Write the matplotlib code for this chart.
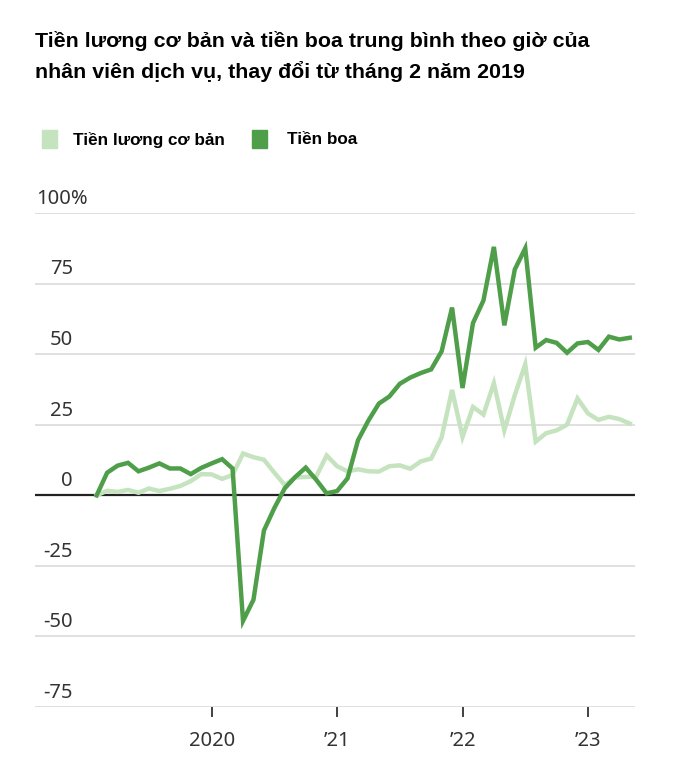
import matplotlib.pyplot as plt
import matplotlib.transforms as mtransforms
from matplotlib.patches import Rectangle

# Dữ liệu theo tháng, từ tháng 2/2019 đến tháng 5/2023 (% thay đổi so với 2/2019)
thang = list(range(52))
luong_co_ban = [0, 1.6, 1.2, 1.9, 0.9, 2.4, 1.5, 2.3, 3.3, 5, 7.5,
                7.4, 5.8, 7.2, 14.8, 13.5, 12.6, 8, 3.6, 6.3, 6.5, 6.6, 14.1,
                10.3, 8.5, 9.2, 8.5, 8.4, 10.3, 10.6, 9.4, 12, 13, 20.5, 37.3,
                20.7, 31.3, 28.6, 39.7, 23, 35.5, 46.4, 19, 22, 23, 25, 34.3,
                29, 26.7, 27.8, 27, 25.4]
tien_boa = [0, 8, 10.5, 11.5, 8.5, 9.8, 11.3, 9.5, 9.5, 7.5, 9.7,
            11.3, 12.8, 9.5, -44.5, -37, -12.5, -4.5, 2.5, 6.5, 9.8, 5.5, 0.7,
            1.5, 6, 19.5, 26.5, 32.5, 35, 39.5, 41.7, 43.3, 44.6, 51, 66.5,
            38, 61, 69, 88, 60.2, 80, 87.5, 52.3, 55, 54, 50.5, 53.8,
            54.3, 51.5, 56.2, 55.2, 55.8]
vi_tri_nam = [11, 23, 35, 47]
nhan_nam = ['2020', '\u201921', '\u201922', '\u201923']
muc_y = [-75, -50, -25, 0, 25, 50, 75, 100]

mau_nhat = '#c5e3bf'
mau_dam = '#4f9f4a'
mau_chu = '#333333'

W, H = 679, 774
fig = plt.figure(figsize=(W / 100, H / 100), dpi=100)
ax = fig.add_axes([35 / W, 1 - 707 / H, 600 / W, 494 / H])
ax.set_xlim(-5.9, 51.5)
ax.set_ylim(-75, 100)

# lưới ngang
for y in muc_y:
    if y == 0:
        ax.axhline(y, color='#222222', lw=1.6, zorder=3)
    else:
        ax.axhline(y, color='#dddddd', lw=1.3, zorder=1)

ax.plot(thang, luong_co_ban, color=mau_nhat, lw=3.2, solid_joinstyle='miter', zorder=4)
ax.plot(thang, tien_boa, color=mau_dam, lw=3.2, solid_joinstyle='miter', zorder=5)

for s in ax.spines.values():
    s.set_visible(False)
ax.set_yticks([])
ax.set_xticks(vi_tri_nam)
ax.set_xticklabels(nhan_nam, fontsize=14.5, color=mau_chu, family='Noto Sans')
ax.tick_params(axis='x', length=7, width=1.3, color=mau_chu, pad=10)

# nhãn trục y đặt phía trên đường lưới
trans = mtransforms.blended_transform_factory(fig.transFigure, ax.transData)
off = mtransforms.offset_copy(trans, fig=fig, y=3, units='points')
for y in muc_y:
    if y == 100:
        fig.text(36 / W, y, '100%', transform=off, ha='left', va='bottom',
                 fontsize=14.5, color=mau_chu, family='Noto Sans')
    else:
        fig.text(73 / W, y, str(y), transform=off, ha='right', va='bottom',
                 fontsize=14.5, color=mau_chu, family='Noto Sans')

# tiêu đề
fig.text(35 / W, 1 - 41 / H, 'Tiền lương cơ bản và tiền boa trung bình theo giờ của',
         fontsize=15.4, fontweight='bold', family='Liberation Sans', va='center')
fig.text(35 / W, 1 - 72 / H, 'nhân viên dịch vụ, thay đổi từ tháng 2 năm 2019',
         fontsize=15.4, fontweight='bold', family='Liberation Sans', va='center')

# chú giải
fig.patches.append(Rectangle((42 / W, 1 - 148 / H), 15 / W, 18 / H,
                             transform=fig.transFigure, color=mau_nhat))
fig.text(73 / W, 1 - 140 / H, 'Tiền lương cơ bản', fontsize=12.3, fontweight='bold',
         family='Liberation Sans', va='center')
fig.patches.append(Rectangle((252 / W, 1 - 148 / H), 15 / W, 18 / H,
                             transform=fig.transFigure, color=mau_dam))
fig.text(287 / W, 1 - 140 / H, 'Tiền boa', fontsize=12.3, fontweight='bold',
         family='Liberation Sans', va='center')

fig.savefig('out.png', dpi=100)
